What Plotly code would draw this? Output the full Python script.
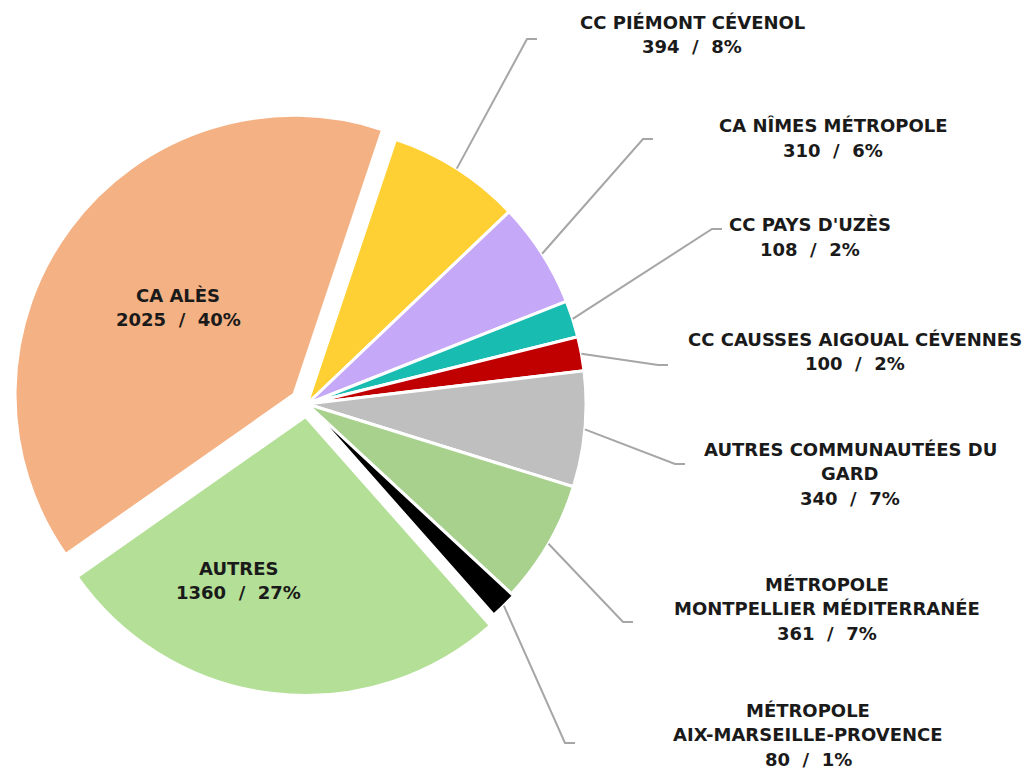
import math
import plotly.graph_objects as go

# ─── Data ────────────────────────────────────────────────────────────────────

names = [
    "CC PIÉMONT CÉVENOL",
    "CA NÎMES MÉTROPOLE",
    "CC PAYS D'UZÈS",
    "CC CAUSSES AIGOUAL CÉVENNES",
    "AUTRES COMMUNAUTÉES DU<br>GARD",
    "MÉTROPOLE<br>MONTPELLIER MÉDITERRANÉE",
    "MÉTROPOLE<br>AIX-MARSEILLE-PROVENCE",
    "AUTRES",
    "CA ALÈS",
]
values = [394, 310, 108, 100, 340, 361, 80, 1360, 2025]
pct_labels = ["8%", "6%", "2%", "2%", "7%", "7%", "1%", "27%", "40%"]
colors = ["#FFD033", "#C5A9F8", "#19BCB1", "#C00000", "#BFBFBF",
          "#A9D18E", "#000000", "#B4DF97", "#F4B183"]
pulls = [0, 0, 0, 0, 0, 0, 0.01, 0.045, 0.058]

# ─── Layout constants (page pixels; the page body adds an 8px offset) ───────

PAGE_OFF = 8
W, H = 1033, 770
CX, CY = 307, 404          # pie centre
R = 279                    # pie radius
ROTATION = 18.5
LINE_H = 24.5
SEP = "\u00a0\u00a0/\u00a0\u00a0"
FONT = dict(family="'DejaVu Sans', sans-serif", size=18,
            color="#1a1a1a", weight=700)

# label centre (x, first line y) and leader elbow (x, y) per slice
label_pos = [(692, 22), (833, 126), (810, 225), (855, 339), (850, 449),
             (827, 584), (808, 710), (238, 568), (178, 295)]
elbows = [(527, 39), (643, 139), (712, 229), (658, 365), (675, 464),
          (623, 622), (565, 743), None, None]
ELBOW_TAIL = 10


def px(x):
    return (x - PAGE_OFF) / W


def py(y):
    return 1 - (y - PAGE_OFF) / H


max_pull = max(pulls)
half = R * (1 + max_pull)

fig = go.Figure(go.Pie(
    values=values,
    labels=[n.replace("<br>", " ") for n in names],
    sort=False,
    direction="clockwise",
    rotation=ROTATION,
    pull=pulls,
    textinfo="none",
    hoverinfo="label+value+percent",
    marker=dict(colors=colors, line=dict(color="white", width=3)),
    domain=dict(x=[px(CX - half), px(CX + half)],
                y=[py(CY + half), py(CY - half)]),
    showlegend=False,
))

# ─── Labels and leader lines ─────────────────────────────────────────────────

total = sum(values)
start = ROTATION
for i, v in enumerate(values):
    span = v / total * 360
    mid = math.radians(start + span / 2)
    start += span

    lines = names[i].split("<br>") + [f"{v}{SEP}{pct_labels[i]}"]
    lx, ly = label_pos[i]
    for k, line in enumerate(lines):
        fig.add_annotation(
            x=px(lx), y=py(ly + k * LINE_H), xref="paper", yref="paper",
            text=line, showarrow=False, font=FONT,
            xanchor="center", yanchor="middle",
        )

    if elbows[i] is None:
        continue
    r_edge = R * (1 + pulls[i])
    sx = CX + r_edge * math.sin(mid)
    sy = CY - r_edge * math.cos(mid)
    ex, ey = elbows[i]
    fig.add_shape(
        type="path", xref="paper", yref="paper",
        path=(f"M {px(sx)},{py(sy)} L {px(ex)},{py(ey)} "
              f"L {px(ex + ELBOW_TAIL)},{py(ey)}"),
        line=dict(color="#A6A6A6", width=2),
    )

fig.update_layout(
    width=W, height=H,
    margin=dict(l=0, r=0, t=0, b=0),
    paper_bgcolor="white",
    plot_bgcolor="white",
)

fig.write_html("out.html")
